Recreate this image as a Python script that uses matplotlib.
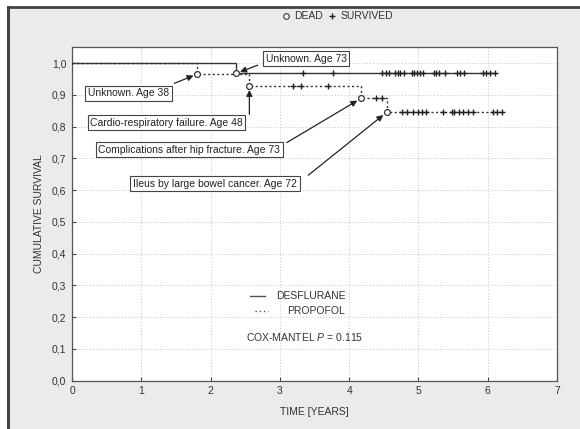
import matplotlib
matplotlib.use("Agg")
import matplotlib.pyplot as plt
from matplotlib.lines import Line2D
import numpy as np

plt.rcParams['font.family'] = ['Liberation Sans', 'DejaVu Sans']
plt.rcParams['mathtext.fontset'] = 'custom'
plt.rcParams['mathtext.it'] = 'Liberation Sans:italic'
plt.rcParams['mathtext.rm'] = 'Liberation Sans'

# Kaplan-Meier steps (time in years, cumulative survival)
desf_time = [0.0, 2.37, 6.11]
desf_surv = [1.0, 0.968, 0.968]
prop_time = [0.0, 1.81, 2.56, 4.17, 4.54, 6.20]
prop_surv = [1.0, 0.966, 0.929, 0.889, 0.845, 0.845]

# deaths (open circles)
desf_dead = [2.37]
prop_dead = [1.81, 2.56, 4.17, 4.54]

# censored (survived) marks
desf_cens = [3.33, 3.76, 4.47, 4.53, 4.58, 4.66, 4.70, 4.73, 4.79, 4.90, 4.94,
             4.98, 5.02, 5.06, 5.23, 5.26, 5.30, 5.39, 5.55, 5.60, 5.66, 5.93,
             5.98, 6.04, 6.10]
prop_cens = [3.19, 3.30, 3.70, 4.39, 4.47, 4.76, 4.84, 4.92, 4.99, 5.05, 5.11,
             5.35, 5.48, 5.52, 5.59, 5.65, 5.72, 5.79, 6.07, 6.13, 6.20]

# annotations: text, death time, group
notes = [("Unknown. Age 73", 2.37, 'd'),
         ("Unknown. Age 38", 1.81, 'p'),
         ("Cardio-respiratory failure. Age 48", 2.56, 'p'),
         ("Complications after hip fracture. Age 73", 4.17, 'p'),
         ("Ileus by large bowel cancer. Age 72", 4.54, 'p')]
note_pos = [(3.38, 1.014), (0.815, 0.905), (1.364, 0.813), (1.69, 0.728), (2.064, 0.620)]
arrow_from = [(2.68, 0.994), (1.48, 0.937), (2.56, 0.839), (3.10, 0.750), (3.41, 0.647)]

xticks = [0, 1, 2, 3, 4, 5, 6, 7]
yticks = [0.0, 0.1, 0.2, 0.3, 0.4, 0.5, 0.6, 0.7, 0.8, 0.9, 1.0]


def surv_at(times, surv, t):
    i = np.searchsorted(times, t, side='right') - 1
    return surv[i]


fig = plt.figure(figsize=(5.8, 4.29), dpi=100, facecolor='white')
bg = plt.Rectangle((8 / 580, 0), 1, 1 - 7 / 429, transform=fig.transFigure,
                   facecolor='#ebebeb', edgecolor='none', zorder=-10)
fig.add_artist(bg)
fig.add_artist(Line2D([8 / 580, 8 / 580], [0, 1 - 7 / 429], transform=fig.transFigure,
                      color='#444444', lw=2.2))
fig.add_artist(Line2D([8 / 580, 1], [1 - 7 / 429, 1 - 7 / 429], transform=fig.transFigure,
                      color='#444444', lw=2))

ax = fig.add_axes([72 / 580, 1 - 380.5 / 429, 485 / 580, 333.1 / 429])
ax.set_facecolor('white')
ax.set_xlim(0, 7)
ax.set_ylim(0, 1.05)

ax.step(desf_time, desf_surv, where='post', color='#333333', lw=1.0, zorder=3)
ax.step(prop_time, prop_surv, where='post', color='#333333', lw=1.0,
        linestyle=(0, (1.5, 1.8)), zorder=3)

ax.plot(desf_cens, [surv_at(desf_time, desf_surv, t) for t in desf_cens], '+',
        color='#222222', ms=5, mew=1.0, zorder=4)
ax.plot(prop_cens, [surv_at(prop_time, prop_surv, t) for t in prop_cens], '+',
        color='#222222', ms=5, mew=1.0, zorder=4)
ax.plot(desf_dead, [surv_at(desf_time, desf_surv, t) for t in desf_dead], 'o',
        mfc='white', mec='#333333', ms=4.2, mew=0.9, zorder=5)
ax.plot(prop_dead, [surv_at(prop_time, prop_surv, t) for t in prop_dead], 'o',
        mfc='white', mec='#333333', ms=4.2, mew=0.9, zorder=5)

for (txt, t, g), (tx, ty), (fx, fy) in zip(notes, note_pos, arrow_from):
    if g == 'd':
        yy = surv_at(desf_time, desf_surv, t)
    else:
        yy = surv_at(prop_time, prop_surv, t)
    ax.annotate('', xy=(t, yy), xytext=(fx, fy),
                arrowprops=dict(arrowstyle='-|>', color='#222222', lw=0.9,
                                mutation_scale=9, shrinkA=0, shrinkB=3), zorder=6)
    ax.text(tx, ty, txt, ha='center', va='center', fontsize=7.5, color='#222222',
            bbox=dict(boxstyle='square,pad=0.25', fc='white', ec='#444444', lw=0.8),
            zorder=7)

ax.set_xticks(xticks)
ax.set_yticks(yticks)
ax.set_xticklabels([str(x) for x in xticks])
ax.set_yticklabels([('%.1f' % y).replace('.', ',') for y in yticks])
ax.tick_params(direction='in', length=3, width=0.8, labelsize=7.5, colors='#444444',
               labelcolor='#333333', pad=4)
ax.grid(True, color='#c4c4c4', linestyle=(0, (1, 2)), lw=0.7)
for s in ax.spines.values():
    s.set_color('#555555')
    s.set_linewidth(0.9)

ax.set_xlabel('TIME [YEARS]', fontsize=7.5, color='#333333', labelpad=8)
ax.set_ylabel('CUMULATIVE SURVIVAL', fontsize=7.5, color='#333333', labelpad=6)

# inner legend
ax.add_line(Line2D([0.367, 0.398], [0.2537, 0.2537], transform=ax.transAxes,
                   color='#555555', lw=1.0))
ax.text(0.564, 0.2537, 'DESFLURANE', transform=ax.transAxes, ha='right', va='center',
        fontsize=7.5, color='#333333')
ax.add_line(Line2D([0.377, 0.404], [0.2086, 0.2086], transform=ax.transAxes,
                   color='#555555', lw=1.0, linestyle=(0, (1, 2))))
ax.text(0.563, 0.2086, 'PROPOFOL', transform=ax.transAxes, ha='right', va='center',
        fontsize=7.5, color='#333333')
ax.text(0.480, 0.1315, r'COX-MANTEL $\mathit{P}$ = 0.115', transform=ax.transAxes,
        ha='center', va='center', fontsize=7.5, color='#333333')

# top legend
fig.add_artist(Line2D([286 / 580], [1 - 16 / 429], transform=fig.transFigure,
                      marker='o', mfc='white', mec='#333333', ms=4, mew=0.8, ls='none'))
fig.text(294 / 580, 1 - 16 / 429, 'DEAD', ha='left', va='center', fontsize=7.5,
         color='#333333')
fig.add_artist(Line2D([332 / 580], [1 - 16 / 429], transform=fig.transFigure,
                      marker='+', color='#222222', ms=5, mew=1.0, ls='none'))
fig.text(341 / 580, 1 - 16 / 429, 'SURVIVED', ha='left', va='center', fontsize=7.5,
         color='#333333')

fig.savefig('out.png', dpi=100, facecolor=fig.get_facecolor())
